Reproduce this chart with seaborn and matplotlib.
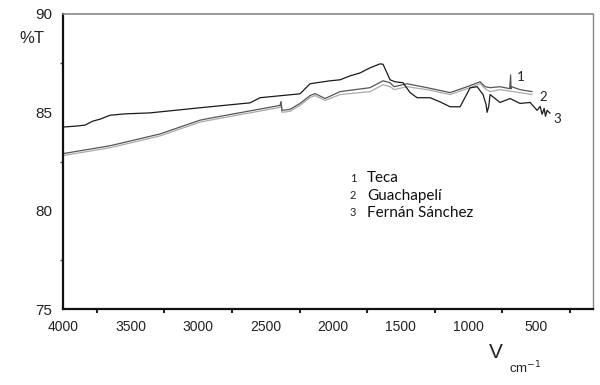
import numpy as np
import pandas as pd
import matplotlib
matplotlib.use('Agg')
import matplotlib.pyplot as plt
import seaborn as sns
from matplotlib.ticker import MultipleLocator

# espectros FTIR (numero de onda cm-1, %T)
wn_teca = [4000, 3652, 3282, 2986, 2912, 2394, 2387, 2380, 2320, 2246, 2172,
           2135, 2061, 1950, 1728, 1632, 1580, 1550, 1454, 1306, 1136, 1010,
           914, 877, 840, 766, 695, 688, 685, 680, 618, 529]
t_teca = [82.9, 83.3, 83.9, 84.6, 84.7, 85.35, 85.55, 85.1, 85.15, 85.45, 85.85,
          85.95, 85.7, 86.05, 86.25, 86.6, 86.5, 86.3, 86.45, 86.25, 86.0, 86.3,
          86.55, 86.3, 86.25, 86.3, 86.2, 86.9, 86.2, 86.3, 86.15, 86.05]

wn_guach = [4000, 3652, 3282, 2986, 2912, 2394, 2387, 2380, 2320, 2246, 2172,
            2135, 2061, 1950, 1728, 1632, 1580, 1550, 1454, 1306, 1136, 1010,
            914, 877, 840, 766, 618, 529]
t_guach = [82.8, 83.2, 83.8, 84.5, 84.6, 85.25, 85.45, 85.0, 85.05, 85.35, 85.75,
           85.85, 85.6, 85.9, 86.05, 86.4, 86.3, 86.15, 86.3, 86.15, 85.9, 86.2,
           86.45, 86.2, 86.05, 86.15, 86.0, 85.9]

wn_fernan = [4000, 3900, 3837, 3780, 3726, 3652, 3541, 3356, 2986, 2616, 2542, 2246, 2172,
             2024, 1950, 1876, 1802, 1728, 1654, 1632, 1580, 1543, 1484, 1432,
             1380, 1284, 1210, 1136, 1062, 988, 936, 892, 870, 862, 850, 840,
             766, 692, 618, 544, 492, 470, 455, 440, 430, 418, 396]
t_fernan = [84.25, 84.3, 84.35, 84.55, 84.65, 84.85, 84.92, 84.97, 85.23, 85.48, 85.74, 85.94, 86.45,
            86.6, 86.65, 86.85, 87.0, 87.26, 87.46, 87.44, 86.65, 86.55, 86.5, 86.0,
            85.74, 85.74, 85.53, 85.28, 85.28, 86.24, 86.3, 85.9, 85.4, 85.0, 85.3, 85.9,
            85.5, 85.7, 85.45, 85.5, 85.1, 85.3, 84.9, 85.2, 84.8, 85.1, 84.95]

df = pd.concat([
    pd.DataFrame({'wn': wn_teca, 'T': t_teca, 'muestra': 'Teca'}),
    pd.DataFrame({'wn': wn_guach, 'T': t_guach, 'muestra': 'Guachapelí'}),
    pd.DataFrame({'wn': wn_fernan, 'T': t_fernan, 'muestra': 'Fernán Sánchez'}),
])

sns.set_style('white')
plt.rcParams['font.family'] = ['Liberation Sans', 'DejaVu Sans']

fig = plt.figure(figsize=(6, 3.85), dpi=100)
ax = fig.add_axes([0.105, 0.197, 0.883, 0.767])

colores = {'Teca': '#555555', 'Guachapelí': '#aaaaaa', 'Fernán Sánchez': '#1a1a1a'}
for m in ['Guachapelí', 'Teca', 'Fernán Sánchez']:
    sns.lineplot(data=df[df['muestra'] == m], x='wn', y='T', color=colores[m],
                 lw=0.9, ax=ax, sort=False, estimator=None, legend=False)

ax.set_xlim(4000, 80)
ax.set_ylim(75, 90)
ax.xaxis.set_major_locator(MultipleLocator(500))
ax.xaxis.set_minor_locator(MultipleLocator(250))
ax.yaxis.set_major_locator(MultipleLocator(5))
ax.yaxis.set_minor_locator(MultipleLocator(2.5))
ax.set_xticks([4000, 3500, 3000, 2500, 2000, 1500, 1000, 500])
ax.set_xlabel('')
ax.set_ylabel('')
ax.tick_params(axis='x', which='major', direction='out', length=5, width=1.5,
               labelsize=10, colors='#222222', pad=3)
ax.tick_params(axis='x', which='minor', direction='out', length=3, width=1.5,
               colors='#222222', bottom=True)
ax.tick_params(axis='y', which='major', direction='out', length=4, width=1,
               labelsize=11, colors='#222222', pad=4)
ax.tick_params(axis='y', which='minor', direction='out', length=2, width=1,
               colors='#444444', left=True)

for s in ['left', 'bottom']:
    ax.spines[s].set_color('#111111')
    ax.spines[s].set_linewidth(1.6)
ax.spines['top'].set_color('#888888')
ax.spines['top'].set_linewidth(1.2)
ax.spines['right'].set_color('#888888')
ax.spines['right'].set_linewidth(1.0)

# etiquetas de ejes
fig.text(0.033, 0.9, '%T', fontsize=12, color='#222222', va='center')
fig.text(0.815, 0.085, 'V', fontsize=15, color='#222222', va='center')
fig.text(0.848, 0.045, 'cm$^{-1}$', fontsize=9.5, color='#222222', va='center')

# numeros sobre las curvas
ax.text(640, 86.6, '1', fontsize=9.5, family='Lato', color='#222222')
ax.text(475, 85.55, '2', fontsize=9.5, family='Lato', color='#222222')
ax.text(375, 84.45, '3', fontsize=9.5, family='Lato', color='#222222')

# leyenda manual
nombres = ['Teca', 'Guachapelí', 'Fernán Sánchez']
for i, nombre in enumerate(nombres):
    y = 0.537 - i * 0.045
    fig.text(0.583, y, str(i + 1), fontsize=8, family='Lato', color='#222222', va='center')
    fig.text(0.612, y, nombre, fontsize=11, family='Lato', color='#111111', va='center')

fig.savefig('out.png', dpi=100)
